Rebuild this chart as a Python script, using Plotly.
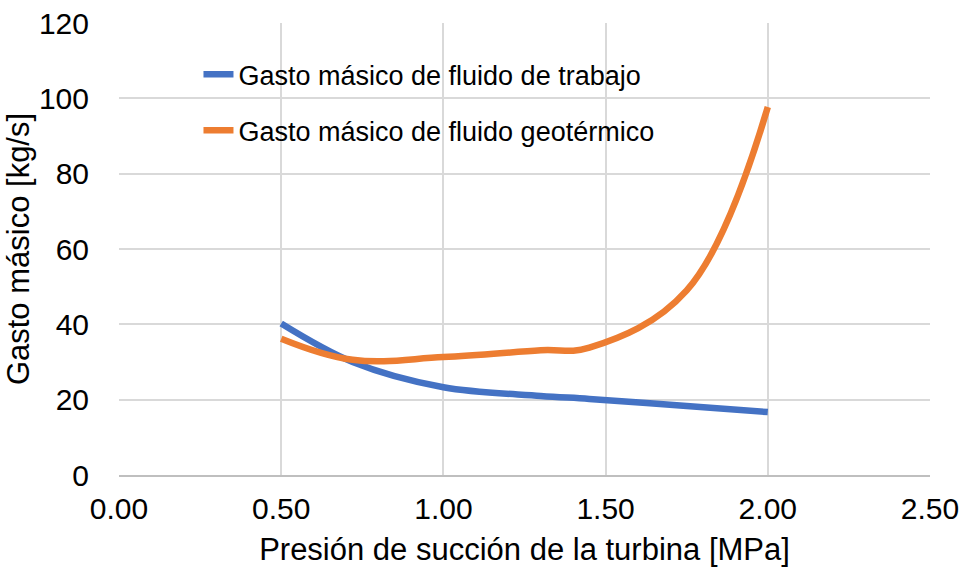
import plotly.graph_objects as go

x_vals = [0.5, 0.72, 1.0, 1.3, 1.45, 1.75, 2.0]
trabajo = [40.2, 30.0, 23.3, 21.0, 20.2, 18.3, 16.7]
geotermico = [36.2, 30.6, 31.3, 33.1, 33.8, 49.0, 97.7]

x_ticks = [0, 0.5, 1.0, 1.5, 2.0, 2.5]
x_ticktext = ["0.00", "0.50", "1.00", "1.50", "2.00", "2.50"]
y_ticks = [0, 20, 40, 60, 80, 100, 120]

FONT = "Liberation Sans, Arial, sans-serif"

fig = go.Figure()
fig.add_trace(go.Scatter(
    x=x_vals, y=trabajo, mode="lines",
    name="Gasto másico de fluido de trabajo",
    legendgroup="a",
    line=dict(color="#4472C4", width=6.5, shape="spline", smoothing=1.0),
))
fig.add_trace(go.Scatter(
    x=x_vals, y=geotermico, mode="lines",
    name="Gasto másico de fluido geotérmico",
    legendgroup="b",
    line=dict(color="#ED7D31", width=6.5, shape="spline", smoothing=1.1),
))

fig.update_layout(
    width=965, height=571,
    margin=dict(l=119, r=35, t=23, b=96, autoexpand=False),
    paper_bgcolor="white", plot_bgcolor="white",
    font=dict(family=FONT, size=30, color="#000000"),
    showlegend=True,
    legend=dict(
        x=0.098, y=0.94, xanchor="left", yanchor="top",
        bgcolor="rgba(0,0,0,0)",
        font=dict(size=27),
        traceorder="grouped", tracegroupgap=18,
        itemwidth=30,
    ),
    xaxis=dict(
        range=[0, 2.5], tickvals=x_ticks, ticktext=x_ticktext,
        automargin=False,
        showgrid=True, gridcolor="#D9D9D9", gridwidth=2,
        zeroline=False, showline=True, linecolor="#BFBFBF", linewidth=2,
        ticks="outside", ticklen=6, tickcolor="rgba(0,0,0,0)",
        tickfont=dict(size=30),
        title=dict(text="Presión de succión de la turbina [MPa]", font=dict(size=31), standoff=14),
    ),
    yaxis=dict(
        range=[0, 120], tickvals=y_ticks,
        automargin=False,
        showgrid=True, gridcolor="#D9D9D9", gridwidth=2,
        zeroline=False, showline=False,
        ticks="outside", ticklen=23, tickcolor="rgba(0,0,0,0)",
        tickfont=dict(size=30),
        title=dict(text="Gasto másico [kg/s]", font=dict(size=31), standoff=0),
    ),
)

fig.write_html("out.html")
